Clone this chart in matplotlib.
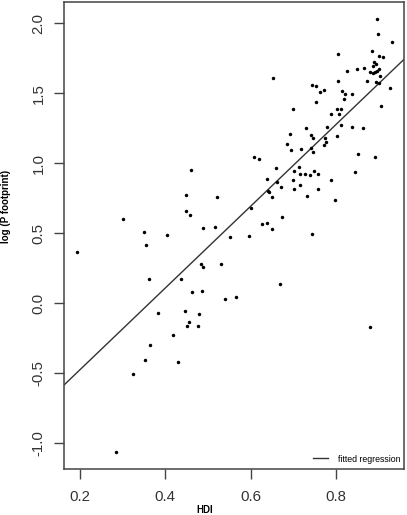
import matplotlib
matplotlib.use("Agg")
import matplotlib.pyplot as plt
from matplotlib.lines import Line2D

plt.rcParams['font.family'] = ['Liberation Sans', 'DejaVu Sans']

hdi = [0.896, 0.899, 0.932, 0.885, 0.804, 0.900, 0.910, 0.889, 0.893, 0.886,
       0.850, 0.865, 0.825, 0.880, 0.886, 0.892, 0.896, 0.901, 0.903, 0.652,
       0.805, 0.874, 0.895, 0.900, 0.743, 0.753, 0.772, 0.763, 0.815, 0.821,
       0.837, 0.818, 0.926, 0.754, 0.905, 0.700, 0.802, 0.811, 0.789, 0.807,
       0.813, 0.730, 0.780, 0.838, 0.863, 0.692, 0.741, 0.747, 0.802, 0.774,
       0.777, 0.685, 0.772, 0.694, 0.719, 0.742, 0.746, 0.851, 0.891, 0.608,
       0.620, 0.660, 0.714, 0.702, 0.715, 0.728, 0.740, 0.749, 0.759, 0.844,
       0.639, 0.661, 0.699, 0.788, 0.715, 0.671, 0.702, 0.759, 0.640, 0.643,
       0.650, 0.732, 0.799, 0.521, 0.601, 0.673, 0.627, 0.638, 0.650, 0.489,
       0.517, 0.551, 0.596, 0.743, 0.530, 0.669, 0.485, 0.540, 0.565, 0.880,
       0.460, 0.449, 0.449, 0.459, 0.302, 0.350, 0.404, 0.355, 0.192, 0.483,
       0.488, 0.362, 0.437, 0.463, 0.383, 0.447, 0.479, 0.456, 0.452, 0.477,
       0.419, 0.365, 0.352, 0.430, 0.324, 0.284]

log_p = [2.031, 1.927, 1.869, 1.804, 1.779, 1.769, 1.756, 1.721, 1.707, 1.695,
         1.674, 1.683, 1.659, 1.650, 1.643, 1.650, 1.661, 1.671, 1.626, 1.609,
         1.586, 1.590, 1.583, 1.571, 1.561, 1.552, 1.526, 1.511, 1.514, 1.495,
         1.495, 1.461, 1.536, 1.440, 1.409, 1.386, 1.390, 1.390, 1.354, 1.354,
         1.274, 1.252, 1.259, 1.257, 1.254, 1.207, 1.204, 1.181, 1.195, 1.179,
         1.152, 1.136, 1.129, 1.097, 1.102, 1.107, 1.079, 1.069, 1.047, 1.047,
         1.033, 0.969, 0.976, 0.943, 0.926, 0.924, 0.914, 0.943, 0.926, 0.940,
         0.890, 0.866, 0.881, 0.879, 0.847, 0.831, 0.819, 0.816, 0.800, 0.793,
         0.757, 0.769, 0.736, 0.759, 0.679, 0.614, 0.566, 0.574, 0.531, 0.540,
         0.547, 0.474, 0.483, 0.495, 0.281, 0.136, 0.091, 0.033, 0.045, -0.167,
         0.954, 0.776, 0.659, 0.631, 0.602, 0.507, 0.488, 0.414, 0.364, 0.279,
         0.261, 0.176, 0.176, 0.083, -0.071, -0.055, -0.076, -0.136, -0.164, -0.162,
         -0.224, -0.300, -0.405, -0.419, -0.507, -1.064]

fit_intercept = -1.058
fit_slope = 2.918

x_ticks = [0.2, 0.4, 0.6, 0.8]
x_tick_labels = ["0.2", "0.4", "0.6", "0.8"]
y_ticks = [-1.0, -0.5, 0.0, 0.5, 1.0, 1.5, 2.0]
y_tick_labels = ["-1.0", "-0.5", "0.0", "0.5", "1.0", "1.5", "2.0"]

W, H = 407, 515
fig = plt.figure(figsize=(W / 100, H / 100), dpi=100)
ax = fig.add_axes([64 / W, 46 / H, 340 / W, 467 / H])

ax.plot(hdi, log_p, 'o', ms=2.5, color='black', mec='none', zorder=3)
ax.axline((0, fit_intercept), slope=fit_slope, color='#333333', lw=1.0, zorder=2)

ax.set_xlim(0.1625, 0.9597)
ax.set_ylim(-1.1836, 2.152)

ax.set_xticks(x_ticks)
ax.set_xticklabels(x_tick_labels)
ax.set_yticks(y_ticks)
ax.set_yticklabels(y_tick_labels, rotation=90, va='center')

for sp in ax.spines.values():
    sp.set_color('#444444')
    sp.set_linewidth(1.1)

ax.tick_params(axis='both', direction='out', length=7.2, width=1.0,
               color='#444444', labelsize=10.8, labelcolor='#333333')
ax.tick_params(axis='x', pad=8)
ax.tick_params(axis='y', pad=6)

fig.text(205 / W, 1 - 510 / H, "HDI", fontsize=7.0, fontweight='bold',
         ha='center', va='center')
fig.text(6 / W, 1 - 206 / H, "log (P footprint)", fontsize=7.0,
         fontweight='bold', rotation=90, ha='center', va='center')

handle = Line2D([], [], color='#333333', lw=1.0)
ax.legend([handle], ["fitted regression"], loc='center right',
          bbox_to_anchor=((400 - 64) / 340, (469 - 459) / 467),
          frameon=False, fontsize=6.3, handlelength=1.7, handletextpad=1.1,
          borderpad=0, borderaxespad=0)

fig.savefig("out.png", dpi=100)
